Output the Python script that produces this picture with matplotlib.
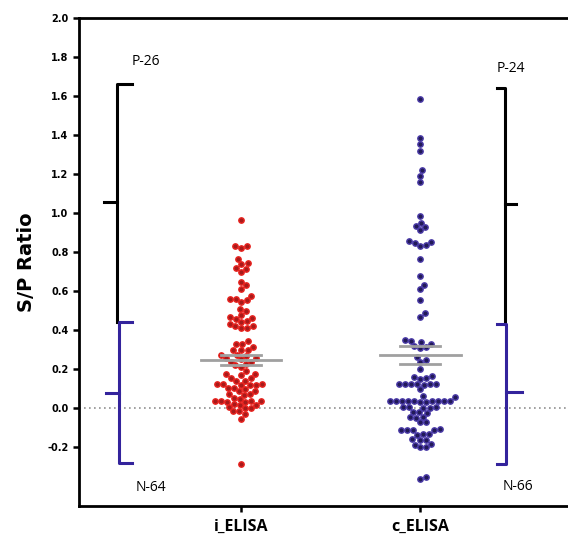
import numpy as np
import matplotlib
matplotlib.use('Agg')
import matplotlib.pyplot as plt

# S/P ratio, one value per animal
groups = ['i_ELISA', 'c_ELISA']

i_elisa = [0.967, 0.83, 0.82, 0.83, 0.766, 0.745, 0.74, 0.72, 0.715, 0.70,
           0.65, 0.63, 0.614, 0.575, 0.56, 0.56, 0.555, 0.545, 0.51, 0.50,
           0.48, 0.47, 0.465, 0.46, 0.45, 0.445,
           0.43, 0.42, 0.41, 0.41, 0.42,
           0.344, 0.33, 0.33, 0.317, 0.30, 0.30, 0.30,
           0.276, 0.276, 0.27, 0.26, 0.26, 0.255, 0.24, 0.24, 0.225, 0.22,
           0.21, 0.19, 0.174, 0.17, 0.175, 0.157, 0.155, 0.14, 0.14,
           0.123, 0.12, 0.125, 0.12, 0.123, 0.12, 0.106, 0.105, 0.10,
           0.089, 0.09, 0.072, 0.07, 0.075, 0.055, 0.05,
           0.037, 0.035, 0.04, 0.037, 0.035, 0.04, 0.02, 0.018, 0.022,
           0.004, 0.0, 0.005, -0.014, -0.015, -0.031, -0.056, -0.283]

c_elisa = [1.586, 1.385, 1.354, 1.321, 1.222, 1.193, 1.158, 0.987,
           0.95, 0.935, 0.93, 0.915, 0.856, 0.85, 0.845, 0.835, 0.83,
           0.767, 0.677, 0.634, 0.612, 0.554, 0.49, 0.47,
           0.35, 0.345, 0.34, 0.33, 0.32, 0.315, 0.31,
           0.265, 0.25, 0.24, 0.20, 0.165, 0.155, 0.15, 0.16,
           0.125, 0.125, 0.123, 0.127, 0.125, 0.122, 0.126, 0.097,
           0.063, 0.06,
           0.037, 0.035, 0.04, 0.038, 0.036, 0.037, 0.039, 0.035, 0.04, 0.036, 0.038,
           0.005, 0.004, 0.006, 0.003, 0.005,
           -0.02, -0.018, -0.022, -0.046, -0.044, -0.048, -0.072, -0.07,
           -0.11, -0.108, -0.112, -0.11, -0.109, -0.133, -0.13, -0.135,
           -0.16, -0.158, -0.162, -0.184, -0.186, -0.2, -0.198, -0.35, -0.36]

# mean line and SEM lines
means = [0.249, 0.273]
sem_hi = [0.276, 0.319]
sem_lo = [0.220, 0.225]

# cut-off brackets: top, middle tick, bottom
pos_left = [1.66, 1.055, 0.445]
neg_left = [0.443, 0.08, -0.28]
pos_right = [1.64, 1.045, 0.43]
neg_right = [0.43, 0.082, -0.286]
labels_left = ['P-26', 'N-64']
labels_right = ['P-24', 'N-66']

yticks = [-0.2, 0.0, 0.2, 0.4, 0.6, 0.8, 1.0, 1.2, 1.4, 1.6, 1.8, 2.0]

red_edge = '#e8221e'
red_face = '#a81a1a'
blue_edge = '#4a3aa8'
blue_face = '#221a58'
bracket_blue = '#33239c'


def swarm_x(ax, x0, vals, d):
    # simple beeswarm in pixel space, d = dot diameter in px
    pts = ax.transData.transform([(x0, v) for v in vals])
    order = np.argsort(vals)
    placed = []
    out = np.zeros(len(vals))
    for i in order:
        px, py = pts[i]
        near = [(qx, qy) for qx, qy in placed if abs(qy - py) < d]
        cands = [px]
        for qx, qy in near:
            dx = np.sqrt(d * d - (qy - py) ** 2)
            cands += [qx + dx, qx - dx]
        cands.sort(key=lambda c: abs(c - px))
        for c in cands:
            if all((c - qx) ** 2 + (py - qy) ** 2 >= d * d - 1e-6 for qx, qy in near):
                break
        placed.append((c, py))
        out[i] = ax.transData.inverted().transform((c, py))[0]
    return out


fig = plt.figure(figsize=(5.68, 5.39), dpi=100)
ax = fig.add_axes([0.139, 0.0612, 0.884, 0.9054])
ax.set_xlim(0.095, 2.899)
ax.set_ylim(-0.5, 2.0)

for s in ['left', 'bottom', 'top']:
    ax.spines[s].set_linewidth(2)
ax.spines['right'].set_visible(False)

ax.axhline(0, color='#909090', ls=(0, (1, 2)), lw=1.2, zorder=1)

xr = swarm_x(ax, 1, i_elisa, 6.0)
ax.scatter(xr, i_elisa, s=15, c=red_face, edgecolors=red_edge, linewidths=1.0, zorder=3)
xb = swarm_x(ax, 2, c_elisa, 6.0)
ax.scatter(xb, c_elisa, s=15, c=blue_face, edgecolors=blue_edge, linewidths=1.0, zorder=3)

for k, xc in enumerate([1, 2]):
    ax.plot([xc - 0.226, xc + 0.226], [means[k]] * 2, color='#a0a0a0', lw=2, zorder=4)
    ax.plot([xc - 0.112, xc + 0.112], [sem_hi[k]] * 2, color='#a0a0a0', lw=2, zorder=4)
    ax.plot([xc - 0.112, xc + 0.112], [sem_lo[k]] * 2, color='#a0a0a0', lw=2, zorder=4)

# left brackets (open to the right)
xl = 0.307
ax.plot([xl + 0.085, xl, xl], [pos_left[0], pos_left[0], pos_left[2]], color='black', lw=2.2)
ax.plot([xl - 0.07, xl], [pos_left[1]] * 2, color='black', lw=2.2)
ax.plot([xl + 0.085, xl + 0.01, xl + 0.01, xl + 0.085],
        [neg_left[0], neg_left[0], neg_left[2], neg_left[2]], color=bracket_blue, lw=2.2)
ax.plot([xl - 0.06, xl + 0.01], [neg_left[1]] * 2, color=bracket_blue, lw=2.2)
ax.text(xl + 0.16, 1.777, labels_left[0], ha='center', va='center', fontsize=10, family='Open Sans')
ax.text(xl + 0.19, -0.404, labels_left[1], ha='center', va='center', fontsize=10, family='Open Sans')

# right brackets (open to the left)
xq = 2.475
ax.plot([xq - 0.045, xq, xq], [pos_right[0], pos_right[0], pos_right[2]], color='black', lw=2.2)
ax.plot([xq, xq + 0.06], [pos_right[1]] * 2, color='black', lw=2.2)
ax.plot([xq - 0.045, xq + 0.005, xq + 0.005, xq - 0.045],
        [neg_right[0], neg_right[0], neg_right[2], neg_right[2]], color=bracket_blue, lw=2.2)
ax.plot([xq + 0.005, xq + 0.095], [neg_right[1]] * 2, color=bracket_blue, lw=2.2)
ax.text(xq + 0.03, 1.74, labels_right[0], ha='center', va='center', fontsize=10, family='Open Sans')
ax.text(xq + 0.07, -0.40, labels_right[1], ha='center', va='center', fontsize=10, family='Open Sans')

ax.set_yticks(yticks)
ax.set_yticklabels([f'{t:.1f}' for t in yticks], fontsize=7, fontweight='bold')
ax.set_xticks([1, 2])
ax.set_xticklabels(groups, fontsize=11.5, fontweight='bold', family='Open Sans')
ax.tick_params(axis='both', direction='out', length=4, width=1.8)
ax.tick_params(axis='x', pad=5)
ax.set_ylabel('S/P Ratio', fontsize=14, fontweight='bold', labelpad=8)

fig.savefig('out.png', dpi=100)
